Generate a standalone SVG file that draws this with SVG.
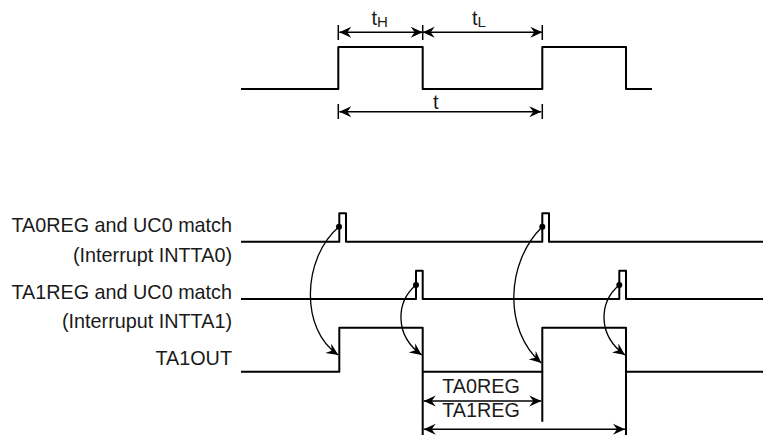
<svg xmlns="http://www.w3.org/2000/svg" width="763" height="435" viewBox="0 0 763 435">
<style>
.w{fill:none;stroke:#000;stroke-width:2;stroke-linejoin:round}
.d{fill:none;stroke:#000;stroke-width:1.5}
.c{fill:none;stroke:#000;stroke-width:1.3}
.t{font-family:"Liberation Sans",Arial,sans-serif;font-size:19.8px;fill:#1a1a1a}
.s{font-family:"Liberation Sans",Arial,sans-serif;font-size:20px;fill:#1a1a1a}
</style>
<defs>
<marker id="a" markerWidth="16" markerHeight="14" viewBox="-14 -7 16 14" refX="0" refY="0" orient="auto-start-reverse" markerUnits="userSpaceOnUse">
<path d="M0,0 L-12,-5.5 L-8,0 L-12,5.5 Z" fill="#000"/>
</marker>
</defs>
<rect width="763" height="435" fill="#fff"/>
<g id="waveform-top">
<path class="w" d="M241,89 H338.3 V47 H422.7 V89 H542.3 V47 H626 V89 H652"/>
</g>
<g id="dims-top">
<path class="d" d="M338.3,25 V40 M422.7,25 V40 M542.3,25 V40 M338.3,104 V119 M542.3,104 V119"/>
<text class="s" x="371.5" y="25">t<tspan font-size="15" dy="1.5">H</tspan></text>
<text class="s" x="472" y="25">t<tspan font-size="15" dy="1.5">L</tspan></text>
<text class="s" x="433" y="109">t</text>
</g>
<g id="labels">
<text class="t" x="232" y="232" text-anchor="end">TA0REG and UC0 match</text>
<text class="t" x="232" y="261.5" text-anchor="end">(Interrupt INTTA0)</text>
<text class="t" x="232" y="298.5" text-anchor="end">TA1REG and UC0 match</text>
<text class="t" x="232" y="327.5" text-anchor="end">(Interruput INTTA1)</text>
<text class="t" x="232" y="365" text-anchor="end">TA1OUT</text>
</g>
<g id="ta0">
<path class="w" d="M241,241.7 H339.3 V213.3 H346 V241.7 H542.3 V213.3 H549 V241.7 H763"/>
</g>
<g id="ta1">
<path class="w" d="M241,299 H416 V270.7 H422.7 V299 H619.3 V270.7 H626 V299 H763"/>
</g>
<g id="ta1out">
<path class="w" d="M241,371.7 H339.3 V327.7 H422.7 V371.7 H542.3 V327.7 H626 V371.7 H763"/>
<path class="w" d="M422.7,371.7 V435 M542.3,371.7 V421.7 M626,371.7 V435"/>
</g>
<g id="reg-labels">
<text class="t" x="481" y="392.5" text-anchor="middle">TA0REG</text>
<text class="t" x="481" y="416.5" text-anchor="middle">TA1REG</text>
</g>
<g id="connectors">
<path class="d" d="M339.3,32.3 H422.7" marker-start="url(#a)" marker-end="url(#a)"/>
<path class="d" d="M422.7,32.3 H542.3" marker-start="url(#a)" marker-end="url(#a)"/>
<path class="d" d="M339.3,111.7 H541.3" marker-start="url(#a)" marker-end="url(#a)"/>
<path class="d" d="M423.7,401 H541.3" marker-start="url(#a)" marker-end="url(#a)"/>
<path class="d" d="M423.7,429.3 H625" marker-start="url(#a)" marker-end="url(#a)"/>
<path class="c" d="M339,226.7 C302,258 300,330 338.3,355" marker-end="url(#a)"/>
<path class="c" d="M416,285 C396,302 394,335 421.7,355" marker-end="url(#a)"/>
<path class="c" d="M542.3,226.7 C506,262 503,330 541.3,363" marker-end="url(#a)"/>
<path class="c" d="M619.3,285 C599,302 597,335 625,355" marker-end="url(#a)"/>
<circle cx="339" cy="226.7" r="3"/>
<circle cx="416" cy="285" r="3"/>
<circle cx="542.3" cy="226.7" r="3"/>
<circle cx="619.3" cy="285" r="3"/>
</g>
</svg>
